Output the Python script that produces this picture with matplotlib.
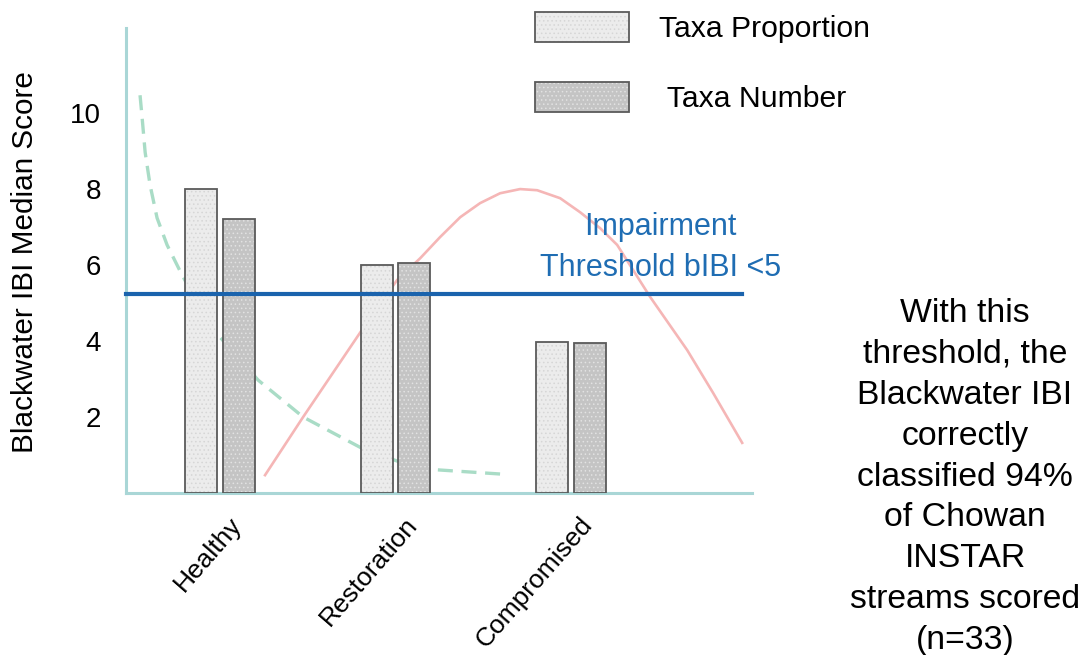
import matplotlib
matplotlib.use("Agg")
import matplotlib.pyplot as plt
import matplotlib.transforms as mtransforms

plt.rcParams['font.family'] = ['Liberation Sans', 'DejaVu Sans']
plt.rcParams['hatch.linewidth'] = 0.6

# ---- data ----
categories = ["Healthy", "Restoration", "Compromised"]
taxa_proportion = [8.0, 6.0, 3.97]
taxa_number = [7.2, 6.05, 3.95]
threshold = 5.25
y_ticks = [2, 4, 6, 8, 10]

# decorative curves (x in category units, y in score)
green_x = [-0.456, -0.444, -0.427, -0.399, -0.359, -0.302, -0.217, -0.114, 0.0,
           0.217, 0.473, 0.815, 1.009, 1.236, 1.595]
green_y = [10.47, 9.87, 8.97, 8.11, 7.24, 6.53, 5.74, 4.89, 4.10,
           2.97, 2.00, 1.16, 0.84, 0.61, 0.50]
pink_x = [0.256, 0.473, 0.815, 1.009, 1.140, 1.254, 1.368, 1.481, 1.595, 1.709, 1.806,
          1.937, 2.051, 2.165, 2.262, 2.450, 2.661, 2.809, 2.974]
pink_y = [0.47, 2.00, 4.34, 5.61, 6.18, 6.74, 7.26, 7.63, 7.89, 8.00, 7.97,
          7.76, 7.39, 6.97, 6.53, 5.16, 3.76, 2.63, 1.32]

fig = plt.figure(figsize=(10.88, 6.55), dpi=100)
ax = fig.add_axes([126/1088, 1-493/655, (752-126)/1088, (493-28)/655])
ax.set_xlim(-0.536, 3.03)
ax.set_ylim(0, 12.24)

pos = list(range(len(categories)))
w = 0.183
off = 0.107
edge = "#5a5a5a"

xp = [p - off for p in pos]
xn = [p + off for p in pos]
b1 = ax.bar(xp, taxa_proportion, w, color="#ececec", edgecolor="#d6d6d6", hatch="....", linewidth=0, zorder=2)
b1o = ax.bar(xp, taxa_proportion, w, fill=False, edgecolor=edge, linewidth=1.3, zorder=3)
b2 = ax.bar(xn, taxa_number, w, color="#c4c4c4", edgecolor="#e2e2e2", hatch="....", linewidth=0, zorder=2)
b2o = ax.bar(xn, taxa_number, w, fill=False, edgecolor=edge, linewidth=1.3, zorder=3)

ax.plot(green_x, green_y, color="#a9dcc6", lw=2.4, dashes=(4.5, 2.6), zorder=1)
ax.plot(pink_x, pink_y, color="#f5b6b6", lw=1.9, zorder=1)

ax.plot([-0.536, 2.974], [threshold, threshold], color="#1a63ad", lw=3.0, zorder=4, clip_on=False)
ax.text(2.507, 6.46, "Impairment\nThreshold bIBI <5", color="#1f6db3", fontsize=22,
        ha="center", va="center", linespacing=1.45, zorder=5)

for s in ["top", "right"]:
    ax.spines[s].set_visible(False)
for s in ["left", "bottom"]:
    ax.spines[s].set_color("#a9d6d6")
    ax.spines[s].set_linewidth(2.2)

ax.set_yticks(y_ticks)
ax.set_yticklabels([str(t) for t in y_ticks], fontsize=20)
ax.tick_params(axis="y", length=0, pad=18)
ax.set_xticks(pos)
ax.set_xticklabels(categories, fontsize=19, rotation=49, ha="right", rotation_mode="anchor")
ax.tick_params(axis="x", length=0, pad=14)
shift = mtransforms.ScaledTranslation(8/100, 0, fig.dpi_scale_trans)
for lab in ax.get_xticklabels():
    lab.set_transform(lab.get_transform() + shift)

fig.text(25/1088, 1-262/655, "Blackwater IBI Median Score", rotation=90, ha="center", va="center", fontsize=21.4)

leg = fig.legend([(b1[0], b1o[0]), (b2[0], b2o[0])], ["Taxa Proportion", " Taxa Number"],
                 loc="upper left", bbox_to_anchor=(514/1088, 1.014), frameon=False, fontsize=21.7,
                 handlelength=3.1, handleheight=1.15, handletextpad=1.0, labelspacing=1.3,
                 borderaxespad=0.3)

fig.text(965/1088, 1-477/655,
         "With this\nthreshold, the\nBlackwater IBI\ncorrectly\nclassified 94%\nof Chowan\nINSTAR\nstreams scored\n(n=33)",
         ha="center", va="center", fontsize=24.3, linespacing=1.41)

fig.savefig("out.png", dpi=100)
